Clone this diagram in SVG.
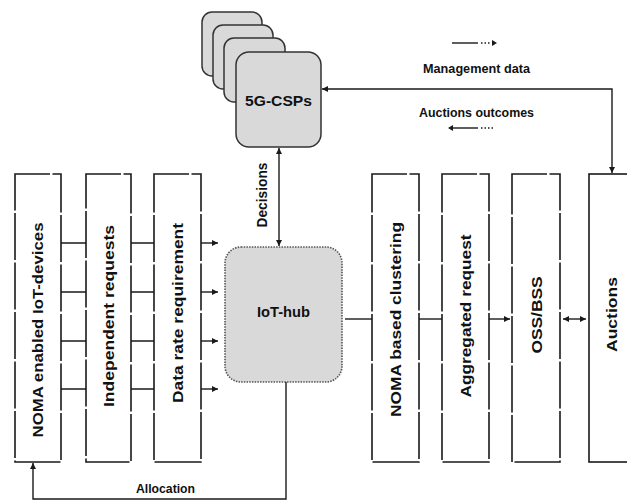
<svg xmlns="http://www.w3.org/2000/svg" width="627" height="502" viewBox="0 0 627 502">
<style>
.box{fill:#fff;stroke:#1a1a1a;stroke-width:1.6;stroke-dasharray:47 2.5;stroke-dashoffset:12}
.solid{fill:#fff;stroke:#1a1a1a;stroke-width:1.6}
.csp{fill:#d9d9d9;stroke:#333;stroke-width:1.5}
.hub{fill:#d9d9d9;stroke:#555;stroke-width:1.6;stroke-dasharray:1.5 1.2}
.ln{fill:none;stroke:#1a1a1a;stroke-width:1.4}
.dot{fill:none;stroke:#1a1a1a;stroke-width:1.4;stroke-dasharray:1.5 2}
text{font-family:"Liberation Sans",Arial,sans-serif;font-weight:bold;fill:#111}
.v{font-size:14px;text-anchor:middle}
.h{font-size:12.5px;text-anchor:middle}
</style>
<defs>
<marker id="ah" viewBox="0 0 6 6" refX="6" refY="3" markerWidth="6" markerHeight="6" markerUnits="userSpaceOnUse" orient="auto-start-reverse">
<path d="M0,0 L6,3 L0,6 z" fill="#1a1a1a"/>
</marker>
</defs>

<g id="csps">
<rect class="csp" x="202" y="12" width="60" height="64" rx="10"/>
<rect class="csp" x="213" y="25" width="60" height="64" rx="10"/>
<rect class="csp" x="224" y="38" width="61" height="64" rx="10"/>
<rect class="csp" x="236" y="52" width="85" height="95" rx="13"/>
<text x="278.5" y="106" font-size="15" text-anchor="middle" textLength="67" lengthAdjust="spacingAndGlyphs">5G-CSPs</text>
</g>

<g id="legend">
<line class="ln" x1="452" y1="43" x2="478" y2="43"/>
<line class="dot" x1="481" y1="43" x2="491" y2="43"/>
<path d="M492,40 L497,43 L492,46 z" fill="#1a1a1a"/>
<text class="h" x="476.5" y="73" textLength="107" lengthAdjust="spacingAndGlyphs">Management data</text>
<text class="h" x="476.5" y="117" textLength="115" lengthAdjust="spacingAndGlyphs">Auctions outcomes</text>
<path d="M453,125 L448,128 L453,131 z" fill="#1a1a1a"/>
<line class="ln" x1="452" y1="128" x2="478" y2="128"/>
<line class="dot" x1="481" y1="128" x2="493" y2="128"/>
</g>

<g id="iot-devices">
<rect class="box" x="15" y="174" width="46" height="288"/>
<text class="v" transform="translate(38,330) rotate(-90)" y="5" textLength="215" lengthAdjust="spacingAndGlyphs">NOMA enabled IoT-devices</text>
</g>
<g id="independent-requests">
<rect class="box" x="86" y="174" width="45" height="288"/>
<text class="v" transform="translate(108.5,316) rotate(-90)" y="5" textLength="182" lengthAdjust="spacingAndGlyphs">Independent requests</text>
</g>
<g id="data-rate">
<rect class="box" x="154" y="174" width="47" height="288"/>
<text class="v" transform="translate(177.5,313) rotate(-90)" y="5" textLength="180" lengthAdjust="spacingAndGlyphs">Data rate requirement</text>
</g>

<g id="iot-hub">
<rect class="hub" x="225" y="247" width="117" height="135" rx="16"/>
<text x="283.5" y="317" font-size="14" text-anchor="middle" textLength="53" lengthAdjust="spacingAndGlyphs">IoT-hub</text>
</g>

<g id="noma-clustering">
<rect class="box" x="372" y="174" width="47" height="288"/>
<text class="v" transform="translate(396,319.5) rotate(-90)" y="5" textLength="195" lengthAdjust="spacingAndGlyphs">NOMA based clustering</text>
</g>
<g id="aggregated-request">
<rect class="box" x="442" y="174" width="47" height="288"/>
<text class="v" transform="translate(466,316) rotate(-90)" y="5" textLength="163" lengthAdjust="spacingAndGlyphs">Aggregated request</text>
</g>
<g id="oss-bss">
<rect class="box" x="512" y="174" width="48" height="288"/>
<text class="v" transform="translate(537,315) rotate(-90)" y="5" textLength="77" lengthAdjust="spacingAndGlyphs">OSS/BSS</text>
</g>
<g id="auctions">
<rect class="solid" x="589" y="174" width="60" height="288"/>
<text class="v" transform="translate(612,314.5) rotate(-90)" y="5" textLength="75" lengthAdjust="spacingAndGlyphs">Auctions</text>
</g>

<g id="connectors">
<path class="ln" d="M61,243H86M61,292H86M61,341H86M61,389H86"/>
<path class="ln" d="M131,243H154M131,292H154M131,341H154M131,389H154"/>
<line class="ln" x1="201" y1="243" x2="218" y2="243" marker-end="url(#ah)"/>
<line class="ln" x1="201" y1="292" x2="218" y2="292" marker-end="url(#ah)"/>
<line class="ln" x1="201" y1="341" x2="218" y2="341" marker-end="url(#ah)"/>
<line class="ln" x1="201" y1="389" x2="218" y2="389" marker-end="url(#ah)"/>
<line class="ln" x1="279" y1="148" x2="279" y2="246" marker-start="url(#ah)" marker-end="url(#ah)"/>
<text class="v" transform="translate(262,195) rotate(-90)" y="5" font-size="12.5" textLength="65" lengthAdjust="spacingAndGlyphs">Decisions</text>
<line class="ln" x1="345" y1="319" x2="372" y2="319"/>
<line class="ln" x1="419" y1="319" x2="442" y2="319"/>
<line class="ln" x1="489" y1="319" x2="510" y2="319" marker-end="url(#ah)"/>
<line class="ln" x1="563" y1="319" x2="586" y2="319" marker-start="url(#ah)" marker-end="url(#ah)"/>
<path class="ln" d="M322,89H612V173" marker-start="url(#ah)" marker-end="url(#ah)"/>
<path class="ln" d="M286,382V499H33V463" marker-end="url(#ah)"/>
<text class="h" x="165.5" y="493" textLength="59" lengthAdjust="spacingAndGlyphs">Allocation</text>
</g>
</svg>
